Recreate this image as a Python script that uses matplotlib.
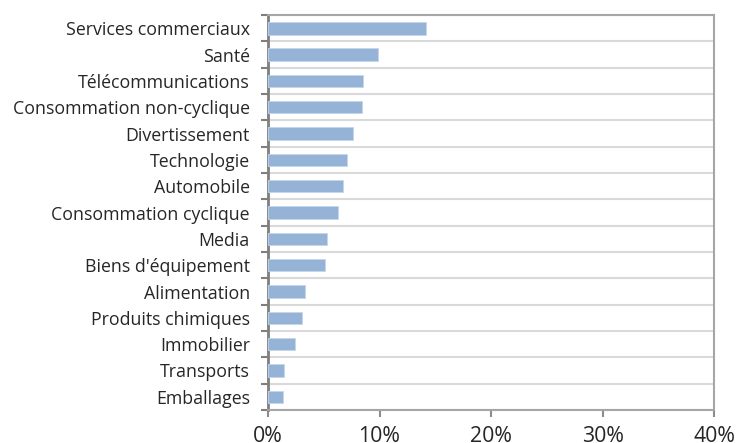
import numpy as np
import matplotlib
matplotlib.use("Agg")
import matplotlib.pyplot as plt
from matplotlib.ticker import FixedLocator, PercentFormatter

categories = ["Services commerciaux", "Santé", "Télécommunications", "Consommation non-cyclique",
              "Divertissement", "Technologie", "Automobile", "Consommation cyclique", "Media",
              "Biens d'équipement", "Alimentation", "Produits chimiques", "Immobilier",
              "Transports", "Emballages"]
values = [14.2, 9.85, 8.55, 8.4, 7.6, 7.1, 6.7, 6.25, 5.25, 5.15, 3.3, 3.05, 2.45, 1.4, 1.3]
xticks = [0, 10, 20, 30, 40]

plt.rcParams["font.family"] = ["Open Sans", "DejaVu Sans"]
fig = plt.figure(figsize=(7.39, 4.43), dpi=100)
ax = fig.add_axes([0.3627, 0.0745, 0.6035, 0.8916])

n = len(categories)
y = np.arange(n)[::-1]
ax.barh(y, values, height=0.48, color="#95B3D7", edgecolor="#C5D6EC", lw=0.6, zorder=3)

ax.set_xlim(0, 40)
ax.set_ylim(-0.5, n - 0.5)
ax.set_xticks(xticks)
ax.xaxis.set_major_formatter(PercentFormatter(decimals=0))
ax.set_yticks(y)
ax.set_yticklabels(categories, fontsize=12.8, color="#262626")
ax.yaxis.set_minor_locator(FixedLocator(np.arange(n + 1) - 0.5))
ax.tick_params(axis="y", which="major", length=0, pad=13)
ax.tick_params(axis="y", which="minor", length=5, width=1.5, color="#7f7f7f")
ax.tick_params(axis="x", length=5, width=1.5, color="#8c8c8c", labelsize=15.3, labelcolor="#262626", pad=6.3)
ax.grid(axis="y", which="minor", color="#D9D9D9", lw=1.5, zorder=0)

ax.spines["left"].set_color("#7f7f7f")
ax.spines["left"].set_linewidth(2)
for s in ["top", "right", "bottom"]:
    ax.spines[s].set_color("#A6A6A6")
    ax.spines[s].set_linewidth(1.5)

fig.savefig("out.png", dpi=100)
